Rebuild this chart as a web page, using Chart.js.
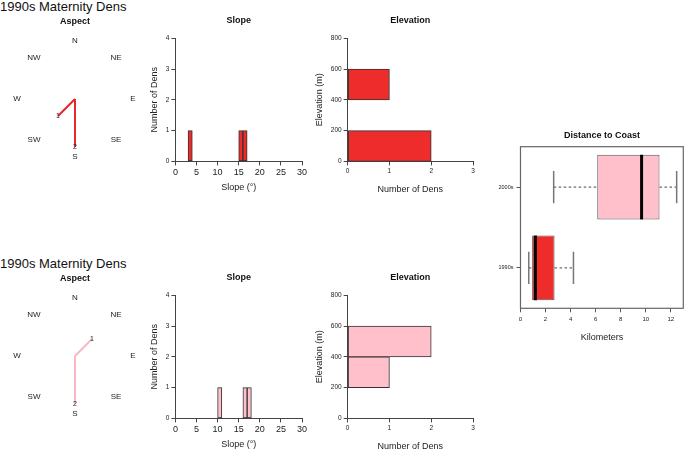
<!DOCTYPE html>
<html>
<head>
<meta charset="utf-8">
<script src="https://cdn.jsdelivr.net/npm/chart.js@4.4.1/dist/chart.umd.min.js"></script>
<style>
  body { margin: 0; background: #fff; width: 685px; height: 451px; position: relative; overflow: hidden; font-family: "Liberation Sans", Arial, sans-serif; }
  canvas { position: absolute; }
  .hd { position: absolute; left: 0; font-size: 13px; color: #111; white-space: nowrap; }
</style>
</head>
<body>
<div class="hd" style="top:-1px">1990s Maternity Dens</div>
<div class="hd" style="top:256px">1990s Maternity Dens</div>

<canvas id="aspectTop" width="150" height="163" style="left:0;top:11px"></canvas>
<canvas id="slopeTop" width="170" height="187" style="left:140px;top:11px"></canvas>
<canvas id="elevTop" width="176" height="189" style="left:305px;top:11px"></canvas>

<canvas id="aspectBottom" width="150" height="163" style="left:0;top:268px"></canvas>
<canvas id="slopeBottom" width="170" height="187" style="left:140px;top:268px"></canvas>
<canvas id="elevBottom" width="176" height="189" style="left:305px;top:268px"></canvas>

<canvas id="coast" width="195" height="227" style="left:490px;top:120px"></canvas>

<script>
// aspect: number of dens per compass direction
const directions = ["N", "NE", "E", "SE", "S", "SW", "W", "NW"];
const aspect1990 = [0, 0, 0, 0, 2, 1, 0, 0];
const aspect2000 = [0, 1, 0, 0, 2, 0, 0, 0];

// slope histogram, 1 degree bins from 0 to 30
const slopeBins = ["0-1","1-2","2-3","3-4","4-5","5-6","6-7","7-8","8-9","9-10",
  "10-11","11-12","12-13","13-14","14-15","15-16","16-17","17-18","18-19","19-20",
  "20-21","21-22","22-23","23-24","24-25","25-26","26-27","27-28","28-29","29-30"];
const slope1990 = [0,0,0,1,0,0,0,0,0,0, 0,0,0,0,0,1,1,0,0,0, 0,0,0,0,0,0,0,0,0,0];
const slope2000 = [0,0,0,0,0,0,0,0,0,0, 1,0,0,0,0,0,1,1,0,0, 0,0,0,0,0,0,0,0,0,0];
const slopeTicks = [0, 5, 10, 15, 20, 25, 30];
const countTicks = [0, 1, 2, 3, 4];

// elevation histogram, 200 m bins
const elevBins = ["0-200", "200-400", "400-600", "600-800"];
const elev1990 = [2, 0, 1, 0];
const elev2000 = [0, 1, 2, 0];
const elevTicks = [0, 200, 400, 600, 800];
const denTicks = [0, 1, 2, 3];

// distance to coast (km), box plot stats
const coastGroups = ["2000s", "1990s"];
const coastMin = [2.65, 0.66];
const coastQ1 = [6.13, 0.93];
const coastMedian = [9.67, 1.19];
const coastQ3 = [11.1, 2.72];
const coastMax = [12.47, 4.23];
const kmTicks = [0, 2, 4, 6, 8, 10, 12];

const RED = "#ee2c2c";
const PINK = "#ffc0cb";

Chart.defaults.font.family = "'Liberation Sans', Arial, sans-serif";
Chart.defaults.color = "#222";
Chart.defaults.animation = false;
Chart.defaults.responsive = false;
Chart.defaults.plugins.legend.display = false;
Chart.defaults.plugins.tooltip.enabled = false;

// an empty top axis used only for its title, so the title is centred on the plot area
function topTitle(text, pad, axisName) {
  return {
    type: "linear", position: "top", axis: axisName || "x",
    ticks: { display: false },
    grid: { display: false, drawTicks: false },
    border: { display: false },
    title: { display: true, text: text, font: { size: 9, weight: "bold" }, color: "#111", padding: pad }
  };
}

function axis(ticks, fontSize, titleText, titlePad) {
  return {
    type: "linear",
    offset: false,
    min: ticks[0],
    max: ticks[ticks.length - 1],
    afterBuildTicks: s => { s.ticks = ticks.map(v => ({ value: v })); },
    grid: { offset: false, drawOnChartArea: false, tickLength: 4, color: "#444" },
    border: { color: "#444" },
    ticks: { font: { size: fontSize }, color: "#222", padding: 2, maxRotation: 0, autoSkip: false },
    title: { display: true, text: titleText, font: { size: 9 }, color: "#222", padding: titlePad }
  };
}

// compass labels + counts at the end of each spoke
const compassLabels = {
  id: "compassLabels",
  afterDatasetsDraw(chart, args, opts) {
    const r = chart.scales.r;
    const ctx = chart.ctx;
    ctx.save();
    ctx.textAlign = "center";
    ctx.textBaseline = "middle";
    ctx.fillStyle = "#222";
    ctx.font = "8px 'Liberation Sans', Arial, sans-serif";
    chart.data.labels.forEach((lab, i) => {
      const p = r.getPointPosition(i, 58);
      ctx.fillText(lab, p.x, p.y);
    });
    ctx.font = "7px 'Liberation Sans', Arial, sans-serif";
    opts.counts.forEach((v, i) => {
      if (!v) return;
      const p = r.getPointPositionForValue(i, v);
      ctx.fillText(String(v), p.x, p.y);
    });
    ctx.restore();
  }
};

function aspectChart(id, counts, color) {
  const datasets = [];
  counts.forEach((v, i) => {
    if (v > 0) {
      datasets.push({
        data: counts.map((c, j) => (j === i ? c : 0)),
        borderColor: color,
        borderWidth: 2,
        borderJoinStyle: "bevel",
        pointRadius: 0,
        fill: false
      });
    }
  });
  return new Chart(document.getElementById(id), {
    type: "radar",
    data: { labels: directions, datasets: datasets },
    plugins: [compassLabels],
    options: {
      layout: { padding: { left: 1, right: 1, top: 3, bottom: 2 } },
      plugins: {
        title: { display: true, text: "Aspect", font: { size: 9, weight: "bold" }, color: "#111", padding: { top: 2.6, bottom: 0.1 } },
        compassLabels: { counts: counts }
      },
      scales: {
        r: {
          min: 0, max: 3,
          ticks: { display: false },
          grid: { display: false },
          angleLines: { display: false },
          pointLabels: { display: false }
        }
      }
    }
  });
}

function slopeChart(id, counts, color) {
  return new Chart(document.getElementById(id), {
    type: "bar",
    data: {
      labels: slopeBins,
      datasets: [{
        data: counts, backgroundColor: color, borderColor: "#333", borderWidth: 1,
        borderSkipped: false, barPercentage: 1, categoryPercentage: 1
      }]
    },
    options: {
      layout: { padding: { left: 5, right: 8, top: 3, bottom: 2 } },
      scales: {
        x: { display: false },
        head: topTitle("Slope", { top: 1.6, bottom: 11.9 }),
        xt: Object.assign(axis(slopeTicks, 9, "Slope (°)", { top: 2, bottom: 3 }), { position: "bottom", axis: "x" }),
        y: axis(countTicks, 6.5, "Number of Dens", { top: 4, bottom: 4 })
      }
    }
  });
}

function elevChart(id, counts, color) {
  return new Chart(document.getElementById(id), {
    type: "bar",
    data: {
      labels: elevBins,
      datasets: [{
        data: counts, backgroundColor: color, borderColor: "#333", borderWidth: 1,
        borderSkipped: false, barPercentage: 1, categoryPercentage: 1
      }]
    },
    options: {
      indexAxis: "y",
      layout: { padding: { left: 5, right: 8, top: 3, bottom: 2 } },
      scales: {
        y: { type: "category", display: false, reverse: true },
        yt: Object.assign(axis(elevTicks, 6.5, "Elevation (m)", { top: 4, bottom: 4 }), { position: "left", axis: "y" }),
        x: axis(denTicks, 6.5, "Number of Dens", { top: 6.7, bottom: 3.3 }),
        head: topTitle("Elevation", { top: 1.6, bottom: 11.9 })
      }
    }
  });
}

// whiskers, caps, medians and the frame round the box plot
const boxWhiskers = {
  id: "boxWhiskers",
  afterDatasetsDraw(chart) {
    const xs = chart.scales.x;
    const ctx = chart.ctx;
    const bars = chart.getDatasetMeta(0).data;
    const ca = chart.chartArea;
    ctx.save();
    coastGroups.forEach((g, i) => {
      const cy = bars[i].y;
      const h = bars[i].height;
      const xMin = xs.getPixelForValue(coastMin[i]);
      const xQ1 = xs.getPixelForValue(coastQ1[i]);
      const xMed = xs.getPixelForValue(coastMedian[i]);
      const xQ3 = xs.getPixelForValue(coastQ3[i]);
      const xMax = xs.getPixelForValue(coastMax[i]);
      ctx.strokeStyle = "#444";
      ctx.lineWidth = 1;
      ctx.setLineDash([2.5, 2.5]);
      ctx.beginPath();
      ctx.moveTo(xMin, cy); ctx.lineTo(xQ1, cy);
      ctx.moveTo(xQ3, cy); ctx.lineTo(xMax, cy);
      ctx.stroke();
      ctx.setLineDash([]);
      ctx.strokeStyle = "#777";
      ctx.lineWidth = 1.5;
      ctx.beginPath();
      ctx.moveTo(xMin, cy - h / 4); ctx.lineTo(xMin, cy + h / 4);
      ctx.moveTo(xMax, cy - h / 4); ctx.lineTo(xMax, cy + h / 4);
      ctx.stroke();
      ctx.strokeStyle = "#000";
      ctx.lineWidth = 3;
      ctx.beginPath();
      ctx.moveTo(xMed, cy - h / 2); ctx.lineTo(xMed, cy + h / 2);
      ctx.stroke();
    });
    ctx.strokeStyle = "#666";
    ctx.lineWidth = 1.2;
    ctx.strokeRect(ca.left, ca.top, ca.right - ca.left, ca.bottom - ca.top);
    ctx.restore();
  }
};

aspectChart("aspectTop", aspect1990, "#e8262b");
aspectChart("aspectBottom", aspect2000, "#f9b8c4");
slopeChart("slopeTop", slope1990, RED);
slopeChart("slopeBottom", slope2000, PINK);
elevChart("elevTop", elev1990, RED);
elevChart("elevBottom", elev2000, PINK);

new Chart(document.getElementById("coast"), {
  type: "bar",
  data: {
    labels: coastGroups,
    datasets: [{
      data: coastQ1.map((q, i) => [q, coastQ3[i]]),
      backgroundColor: [PINK, RED],
      borderColor: "#555",
      borderWidth: 1,
      borderSkipped: false,
      barPercentage: 0.8,
      categoryPercentage: 1
    }]
  },
  plugins: [boxWhiskers],
  options: {
    indexAxis: "y",
    layout: { padding: { left: 5.5, right: 1.7, top: 4, bottom: 2 } },
    scales: {
      x: {
        type: "linear", min: 0, max: 13,
        afterBuildTicks: s => { s.ticks = kmTicks.map(v => ({ value: v })); },
        grid: { drawOnChartArea: false, tickLength: 4, color: "#555" },
        border: { display: false },
        ticks: { font: { size: 6 }, color: "#222", padding: 3, maxRotation: 0 },
        title: { display: true, text: "Kilometers", font: { size: 9 }, color: "#222", padding: { top: 6.7, bottom: 2 } }
      },
      head: topTitle("Distance to Coast", { top: 6.6, bottom: 5.3 }),
      y: {
        grid: { offset: false, drawOnChartArea: false, tickLength: 4, color: "#555" },
        border: { display: false },
        ticks: { font: { size: 5.5 }, color: "#222", padding: 3 }
      }
    }
  }
});
</script>
</body>
</html>
